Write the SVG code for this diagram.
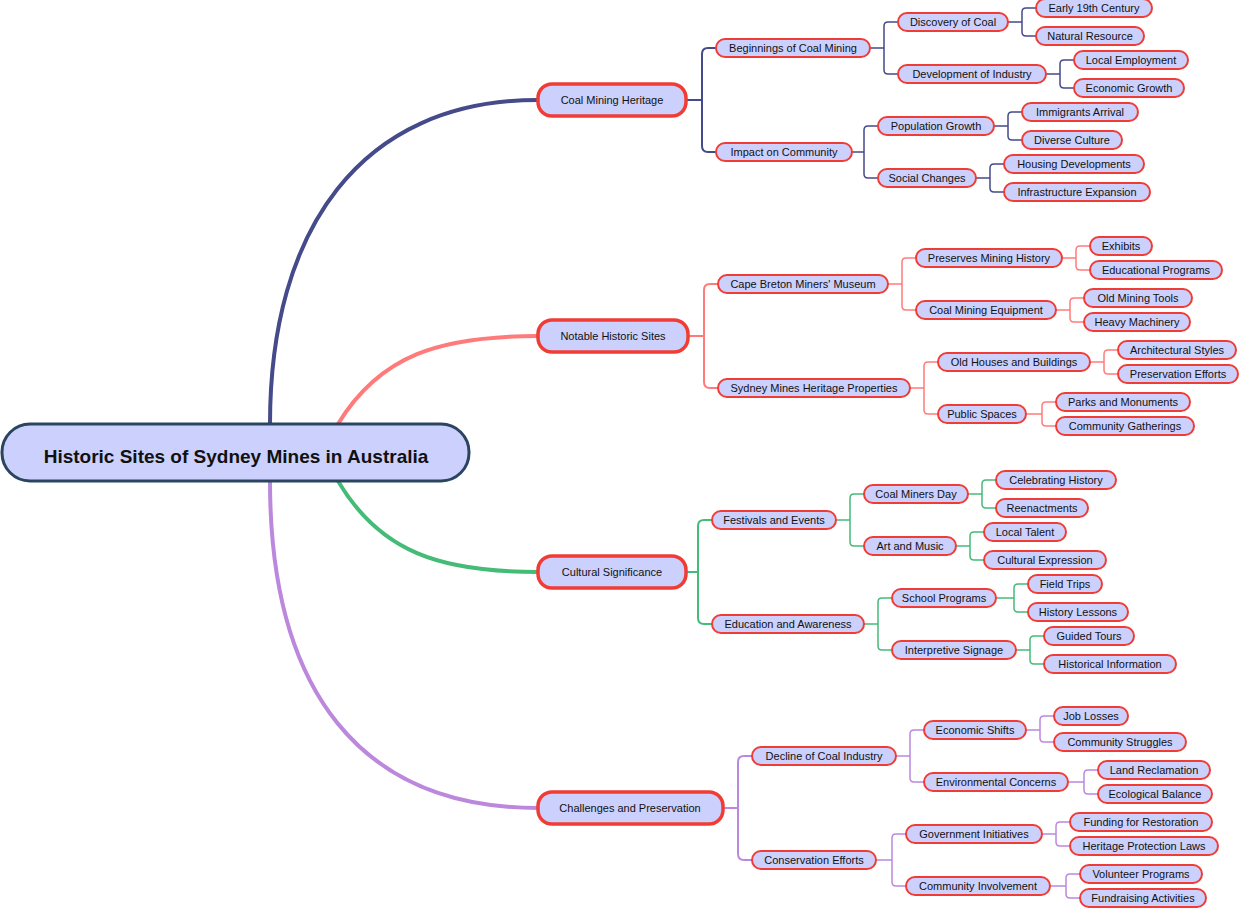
<svg xmlns="http://www.w3.org/2000/svg" width="1240" height="908" viewBox="0 0 1240 908">
<style>
rect.n{fill:#ccd0fc;stroke:#f03c34;stroke-width:2}
rect.m{fill:#ccd0fc;stroke:#f03c34;stroke-width:3.5}
text{font-family:"Liberation Sans",Arial,sans-serif;font-size:11px;fill:#111;text-anchor:middle}
.c path{fill:none}
.b path{stroke:#444a8a}.s path{stroke:#ff7b7b}.g path{stroke:#44bb77}.p path{stroke:#bb88dd}
.t1{stroke-width:4}.t2{stroke-width:2}.t3{stroke-width:1.5}
</style>
<g class="c" id="connectors">
<g class="b">
<path class="t1" d="M270,424 C270,230 360,100 538,100"/>
<path class="t2" d="M686,100 H702 M702,100 V54 Q702,48 708,48 H716 M702,100 V146 Q702,152 708,152 H716"/>
<path class="t3" d="M870,48 H884 M884,48 V26 Q884,22 888,22 H898 M884,48 V70 Q884,74 888,74 H898"/>
<path class="t3" d="M1008,22 H1022 M1022,22 V12 Q1022,8 1026,8 H1036 M1022,22 V32 Q1022,36 1026,36 H1036"/>
<path class="t3" d="M1046,74 H1060 M1060,74 V64 Q1060,60 1064,60 H1074 M1060,74 V84 Q1060,88 1064,88 H1074"/>
<path class="t3" d="M852,152 H864 M864,152 V130 Q864,126 868,126 H878 M864,152 V174 Q864,178 868,178 H878"/>
<path class="t3" d="M994,126 H1008 M1008,126 V116 Q1008,112 1012,112 H1022 M1008,126 V136 Q1008,140 1012,140 H1022"/>
<path class="t3" d="M976,178 H990 M990,178 V168 Q990,164 994,164 H1004 M990,178 V188 Q990,192 994,192 H1004"/>
</g>
<g class="s">
<path class="t1" d="M338,424 C380,355 440,336 538,336"/>
<path class="t2" d="M688,336 H704 M704,336 V290 Q704,284 710,284 H718 M704,336 V382 Q704,388 710,388 H718"/>
<path class="t3" d="M888,284 H902 M902,284 V262 Q902,258 906,258 H916 M902,284 V306 Q902,310 906,310 H916"/>
<path class="t3" d="M1062,258 H1076 M1076,258 V250 Q1076,246 1080,246 H1090 M1076,258 V266 Q1076,270 1080,270 H1090"/>
<path class="t3" d="M1056,310 H1070 M1070,310 V302 Q1070,298 1074,298 H1084 M1070,310 V318 Q1070,322 1074,322 H1084"/>
<path class="t3" d="M910,388 H924 M924,388 V366 Q924,362 928,362 H938 M924,388 V410 Q924,414 928,414 H938"/>
<path class="t3" d="M1090,362 H1104 M1104,362 V354 Q1104,350 1108,350 H1118 M1104,362 V370 Q1104,374 1108,374 H1118"/>
<path class="t3" d="M1026,414 H1042 M1042,414 V406 Q1042,402 1046,402 H1056 M1042,414 V422 Q1042,426 1046,426 H1056"/>
</g>
<g class="g">
<path class="t1" d="M338,481 C380,552 440,572 538,572"/>
<path class="t2" d="M686,572 H698 M698,572 V526 Q698,520 704,520 H712 M698,572 V618 Q698,624 704,624 H712"/>
<path class="t3" d="M836,520 H850 M850,520 V498 Q850,494 854,494 H864 M850,520 V542 Q850,546 854,546 H864"/>
<path class="t3" d="M968,494 H982 M982,494 V484 Q982,480 986,480 H996 M982,494 V504 Q982,508 986,508 H996"/>
<path class="t3" d="M956,546 H970 M970,546 V536 Q970,532 974,532 H984 M970,546 V556 Q970,560 974,560 H984"/>
<path class="t3" d="M864,624 H878 M878,624 V602 Q878,598 882,598 H892 M878,624 V646 Q878,650 882,650 H892"/>
<path class="t3" d="M996,598 H1014 M1014,598 V588 Q1014,584 1018,584 H1028 M1014,598 V608 Q1014,612 1018,612 H1028"/>
<path class="t3" d="M1016,650 H1030 M1030,650 V640 Q1030,636 1034,636 H1044 M1030,650 V660 Q1030,664 1034,664 H1044"/>
</g>
<g class="p">
<path class="t1" d="M270,481 C270,690 360,808 538,808"/>
<path class="t2" d="M723,808 H738 M738,808 V762 Q738,756 744,756 H752 M738,808 V854 Q738,860 744,860 H752"/>
<path class="t3" d="M896,756 H910 M910,756 V734 Q910,730 914,730 H924 M910,756 V778 Q910,782 914,782 H924"/>
<path class="t3" d="M1026,730 H1040 M1040,730 V720 Q1040,716 1044,716 H1054 M1040,730 V738 Q1040,742 1044,742 H1054"/>
<path class="t3" d="M1068,782 H1084 M1084,782 V774 Q1084,770 1088,770 H1098 M1084,782 V790 Q1084,794 1088,794 H1098"/>
<path class="t3" d="M876,860 H892 M892,860 V838 Q892,834 896,834 H906 M892,860 V882 Q892,886 896,886 H906"/>
<path class="t3" d="M1042,834 H1056 M1056,834 V826 Q1056,822 1060,822 H1070 M1056,834 V842 Q1056,846 1060,846 H1070"/>
<path class="t3" d="M1050,886 H1066 M1066,886 V878 Q1066,874 1070,874 H1080 M1066,886 V894 Q1066,898 1070,898 H1080"/>
</g>
</g>
<g id="root"><rect x="2" y="424" width="467" height="57" rx="28" fill="#ccd0fc" stroke="#2b4460" stroke-width="3"/><text x="236" y="463" style="font-size:19px;font-weight:bold">Historic Sites of Sydney Mines in Australia</text></g>
<g id="n1"><rect class="m" x="538" y="84" width="148" height="32" rx="14"/><text x="612" y="104">Coal Mining Heritage</text></g>
<g id="n2"><rect class="m" x="538" y="320" width="150" height="32" rx="14"/><text x="613" y="340">Notable Historic Sites</text></g>
<g id="n3"><rect class="m" x="538" y="556" width="148" height="32" rx="14"/><text x="612" y="576">Cultural Significance</text></g>
<g id="n4"><rect class="m" x="538" y="792" width="185" height="32" rx="14"/><text x="630" y="812">Challenges and Preservation</text></g>
<g id="a1"><rect class="n" x="716" y="39" width="154" height="18" rx="9"/><text x="793" y="52">Beginnings of Coal Mining</text></g>
<g id="a2"><rect class="n" x="898" y="13" width="110" height="18" rx="9"/><text x="953" y="26">Discovery of Coal</text></g>
<g id="a3"><rect class="n" x="1036" y="-1" width="116" height="18" rx="9"/><text x="1094" y="12">Early 19th Century</text></g>
<g id="a4"><rect class="n" x="1036" y="27" width="108" height="18" rx="9"/><text x="1090" y="40">Natural Resource</text></g>
<g id="a5"><rect class="n" x="898" y="65" width="148" height="18" rx="9"/><text x="972" y="78">Development of Industry</text></g>
<g id="a6"><rect class="n" x="1074" y="51" width="114" height="18" rx="9"/><text x="1131" y="64">Local Employment</text></g>
<g id="a7"><rect class="n" x="1074" y="79" width="110" height="18" rx="9"/><text x="1129" y="92">Economic Growth</text></g>
<g id="a8"><rect class="n" x="716" y="143" width="136" height="18" rx="9"/><text x="784" y="156">Impact on Community</text></g>
<g id="a9"><rect class="n" x="878" y="117" width="116" height="18" rx="9"/><text x="936" y="130">Population Growth</text></g>
<g id="a10"><rect class="n" x="1022" y="103" width="116" height="18" rx="9"/><text x="1080" y="116">Immigrants Arrival</text></g>
<g id="a11"><rect class="n" x="1022" y="131" width="100" height="18" rx="9"/><text x="1072" y="144">Diverse Culture</text></g>
<g id="a12"><rect class="n" x="878" y="169" width="98" height="18" rx="9"/><text x="927" y="182">Social Changes</text></g>
<g id="a13"><rect class="n" x="1004" y="155" width="140" height="18" rx="9"/><text x="1074" y="168">Housing Developments</text></g>
<g id="a14"><rect class="n" x="1004" y="183" width="146" height="18" rx="9"/><text x="1077" y="196">Infrastructure Expansion</text></g>
<g id="b1"><rect class="n" x="718" y="275" width="170" height="18" rx="9"/><text x="803" y="288">Cape Breton Miners' Museum</text></g>
<g id="b2"><rect class="n" x="916" y="249" width="146" height="18" rx="9"/><text x="989" y="262">Preserves Mining History</text></g>
<g id="b3"><rect class="n" x="1090" y="237" width="62" height="18" rx="9"/><text x="1121" y="250">Exhibits</text></g>
<g id="b4"><rect class="n" x="1090" y="261" width="132" height="18" rx="9"/><text x="1156" y="274">Educational Programs</text></g>
<g id="b5"><rect class="n" x="916" y="301" width="140" height="18" rx="9"/><text x="986" y="314">Coal Mining Equipment</text></g>
<g id="b6"><rect class="n" x="1084" y="289" width="108" height="18" rx="9"/><text x="1138" y="302">Old Mining Tools</text></g>
<g id="b7"><rect class="n" x="1084" y="313" width="106" height="18" rx="9"/><text x="1137" y="326">Heavy Machinery</text></g>
<g id="b8"><rect class="n" x="718" y="379" width="192" height="18" rx="9"/><text x="814" y="392">Sydney Mines Heritage Properties</text></g>
<g id="b9"><rect class="n" x="938" y="353" width="152" height="18" rx="9"/><text x="1014" y="366">Old Houses and Buildings</text></g>
<g id="b10"><rect class="n" x="1118" y="341" width="118" height="18" rx="9"/><text x="1177" y="354">Architectural Styles</text></g>
<g id="b11"><rect class="n" x="1118" y="365" width="120" height="18" rx="9"/><text x="1178" y="378">Preservation Efforts</text></g>
<g id="b12"><rect class="n" x="938" y="405" width="88" height="18" rx="9"/><text x="982" y="418">Public Spaces</text></g>
<g id="b13"><rect class="n" x="1056" y="393" width="134" height="18" rx="9"/><text x="1123" y="406">Parks and Monuments</text></g>
<g id="b14"><rect class="n" x="1056" y="417" width="138" height="18" rx="9"/><text x="1125" y="430">Community Gatherings</text></g>
<g id="c1"><rect class="n" x="712" y="511" width="124" height="18" rx="9"/><text x="774" y="524">Festivals and Events</text></g>
<g id="c2"><rect class="n" x="864" y="485" width="104" height="18" rx="9"/><text x="916" y="498">Coal Miners Day</text></g>
<g id="c3"><rect class="n" x="996" y="471" width="120" height="18" rx="9"/><text x="1056" y="484">Celebrating History</text></g>
<g id="c4"><rect class="n" x="996" y="499" width="92" height="18" rx="9"/><text x="1042" y="512">Reenactments</text></g>
<g id="c5"><rect class="n" x="864" y="537" width="92" height="18" rx="9"/><text x="910" y="550">Art and Music</text></g>
<g id="c6"><rect class="n" x="984" y="523" width="82" height="18" rx="9"/><text x="1025" y="536">Local Talent</text></g>
<g id="c7"><rect class="n" x="984" y="551" width="122" height="18" rx="9"/><text x="1045" y="564">Cultural Expression</text></g>
<g id="c8"><rect class="n" x="712" y="615" width="152" height="18" rx="9"/><text x="788" y="628">Education and Awareness</text></g>
<g id="c9"><rect class="n" x="892" y="589" width="104" height="18" rx="9"/><text x="944" y="602">School Programs</text></g>
<g id="c10"><rect class="n" x="1028" y="575" width="74" height="18" rx="9"/><text x="1065" y="588">Field Trips</text></g>
<g id="c11"><rect class="n" x="1028" y="603" width="100" height="18" rx="9"/><text x="1078" y="616">History Lessons</text></g>
<g id="c12"><rect class="n" x="892" y="641" width="124" height="18" rx="9"/><text x="954" y="654">Interpretive Signage</text></g>
<g id="c13"><rect class="n" x="1044" y="627" width="90" height="18" rx="9"/><text x="1089" y="640">Guided Tours</text></g>
<g id="c14"><rect class="n" x="1044" y="655" width="132" height="18" rx="9"/><text x="1110" y="668">Historical Information</text></g>
<g id="d1"><rect class="n" x="752" y="747" width="144" height="18" rx="9"/><text x="824" y="760">Decline of Coal Industry</text></g>
<g id="d2"><rect class="n" x="924" y="721" width="102" height="18" rx="9"/><text x="975" y="734">Economic Shifts</text></g>
<g id="d3"><rect class="n" x="1054" y="707" width="74" height="18" rx="9"/><text x="1091" y="720">Job Losses</text></g>
<g id="d4"><rect class="n" x="1054" y="733" width="132" height="18" rx="9"/><text x="1120" y="746">Community Struggles</text></g>
<g id="d5"><rect class="n" x="924" y="773" width="144" height="18" rx="9"/><text x="996" y="786">Environmental Concerns</text></g>
<g id="d6"><rect class="n" x="1098" y="761" width="112" height="18" rx="9"/><text x="1154" y="774">Land Reclamation</text></g>
<g id="d7"><rect class="n" x="1098" y="785" width="114" height="18" rx="9"/><text x="1155" y="798">Ecological Balance</text></g>
<g id="d8"><rect class="n" x="752" y="851" width="124" height="18" rx="9"/><text x="814" y="864">Conservation Efforts</text></g>
<g id="d9"><rect class="n" x="906" y="825" width="136" height="18" rx="9"/><text x="974" y="838">Government Initiatives</text></g>
<g id="d10"><rect class="n" x="1070" y="813" width="142" height="18" rx="9"/><text x="1141" y="826">Funding for Restoration</text></g>
<g id="d11"><rect class="n" x="1070" y="837" width="148" height="18" rx="9"/><text x="1144" y="850">Heritage Protection Laws</text></g>
<g id="d12"><rect class="n" x="906" y="877" width="144" height="18" rx="9"/><text x="978" y="890">Community Involvement</text></g>
<g id="d13"><rect class="n" x="1080" y="865" width="122" height="18" rx="9"/><text x="1141" y="878">Volunteer Programs</text></g>
<g id="d14"><rect class="n" x="1080" y="889" width="126" height="18" rx="9"/><text x="1143" y="902">Fundraising Activities</text></g>
</svg>
